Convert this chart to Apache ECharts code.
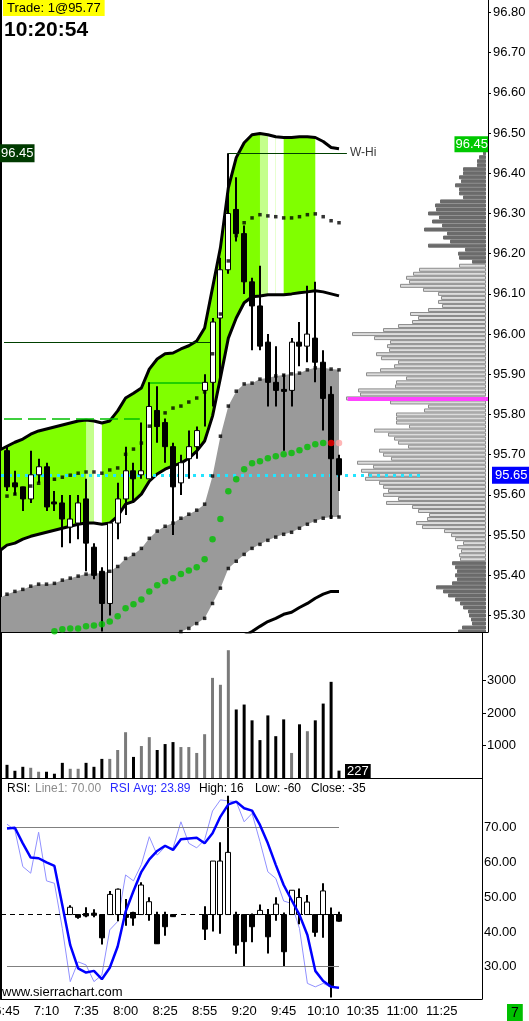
<!DOCTYPE html>
<html><head><meta charset="utf-8">
<script src="https://cdn.jsdelivr.net/npm/echarts@6/dist/echarts.min.js"></script>
<style>html,body{margin:0;padding:0;background:#fff;overflow:hidden}#c{width:529px;height:1021px}</style>
</head><body><div id="c"></div>
<script>
// ---------- categories (5-minute bars) ----------
const times = ['6:45','6:50','6:55','7:00','7:05','7:10','7:15','7:20','7:25','7:30','7:35','7:40','7:45','7:50','7:55','8:00','8:05','8:10','8:15','8:20','8:25','8:35','8:40','8:45','8:50','8:55','9:00','9:05','9:10','9:15','9:20','9:25','9:30','9:35','9:40','9:45','9:50','9:55','10:00','10:05','10:10','10:15','10:20','10:25','10:30','10:35','10:40','10:45','10:50','10:55','11:00','11:05','11:10','11:15','11:20','11:25','11:30','11:35','11:40','11:45','11:50'];
const timeLabelIdx = [0,5,10,15,20,25,30,35,40,45,50,55];

// ---------- price bars ----------
const opens  = [95.71,95.63,95.62,95.59,95.65,95.67,95.58,95.58,95.52,95.53,95.59,95.47,95.41,95.33,95.53,95.59,95.66,95.65,95.64,95.81,95.78,95.72,95.63,95.69,95.72,95.86,95.88,96.04,96.16,96.31,96.25,96.13,96.07,95.98,95.88,95.86,95.86,95.98,95.97,95.99,95.93,95.85,95.69];
const highs  = [95.72,95.66,95.62,95.71,95.69,95.68,95.61,95.60,95.60,95.60,95.64,95.48,95.42,95.53,95.63,95.72,95.68,95.78,95.88,95.87,95.79,95.73,95.70,95.76,95.77,95.90,96.04,96.19,96.45,96.39,96.27,96.14,96.17,96.00,95.97,95.90,95.99,96.03,96.12,96.13,95.96,95.87,95.70];
const lows   = [95.61,95.60,95.56,95.58,95.63,95.56,95.56,95.47,95.48,95.49,95.41,95.39,95.26,95.30,95.49,95.55,95.58,95.64,95.64,95.73,95.68,95.50,95.60,95.64,95.69,95.77,95.82,95.88,96.15,96.23,96.10,95.96,95.96,95.82,95.82,95.71,95.82,95.92,95.93,95.88,95.76,95.54,95.61];
const closes = [95.62,95.62,95.59,95.65,95.67,95.57,95.58,95.54,95.54,95.58,95.48,95.40,95.33,95.53,95.59,95.66,95.64,95.66,95.82,95.77,95.72,95.62,95.68,95.72,95.76,95.88,96.03,96.16,96.30,96.25,96.13,96.07,95.97,95.88,95.86,95.86,95.98,95.97,96.00,95.93,95.84,95.69,95.65];
const volumes = [406,223,345,315,193,193,132,467,284,284,467,345,589,589,863,1411,650,985,1259,863,1046,1107,954,954,772,1350,3086,2873,3939,2112,2264,1777,1168,1929,1289,1807,772,1655,1442,1777,2294,2964,227];

// ---------- study overlays (first value = bar before 6:45) ----------
const bandTop = [95.711,95.721,95.731,95.739,95.751,95.759,95.764,95.769,95.774,95.779,95.784,95.786,95.784,95.779,95.784,95.809,95.841,95.853,95.866,95.913,95.938,95.951,95.953,95.963,95.971,95.983,96.015,96.115,96.215,96.364,96.439,96.476,96.496,96.499,96.496,96.491,96.489,96.489,96.491,96.491,96.489,96.479,96.464,96.461];
const bandBot = [95.460,95.475,95.480,95.490,95.497,95.502,95.507,95.512,95.517,95.522,95.527,95.530,95.530,95.527,95.530,95.547,95.577,95.584,95.602,95.634,95.652,95.664,95.672,95.679,95.691,95.709,95.734,95.796,95.891,95.990,96.040,96.078,96.093,96.095,96.098,96.098,96.098,96.100,96.103,96.105,96.108,96.105,96.100,96.095];
const bandMid = [95.592,95.597,95.602,95.612,95.622,95.629,95.634,95.639,95.644,95.649,95.654,95.657,95.657,95.654,95.662,95.667,95.701,95.714,95.729,95.771,95.789,95.804,95.816,95.821,95.831,95.841,95.856,95.951,96.050,96.182,96.245,96.277,96.289,96.297,96.294,96.292,96.289,96.289,96.292,96.297,96.299,96.292,96.282,96.277];
// 0 = green, 1 = light green, 2 = white, 3 = no fill (per segment)
const bandShade = [0,0,0,0,0,0,0,0,0,0,0,1,2,0,0,0,0,0,0,0,0,0,0,0,0,0,0,0,0,0,0,0,0,1,2,2,0,0,0,0,3,3,3];
const grayTop = [95.343,95.353,95.360,95.365,95.373,95.378,95.378,95.380,95.388,95.393,95.398,95.403,95.405,95.405,95.410,95.422,95.442,95.452,95.467,95.492,95.510,95.522,95.530,95.542,95.552,95.562,95.577,95.647,95.746,95.821,95.858,95.876,95.878,95.888,95.891,95.896,95.898,95.901,95.903,95.911,95.916,95.916,95.913,95.911];
const grayBot = [95.17,95.175,95.18,95.185,95.19,95.19,95.195,95.2,95.2,95.205,95.21,95.215,95.215,95.215,95.22,95.225,95.23,95.235,95.24,95.245,95.25,95.252,95.255,95.260,95.268,95.280,95.293,95.330,95.368,95.417,95.435,95.452,95.467,95.477,95.487,95.495,95.502,95.507,95.517,95.527,95.535,95.542,95.545,95.545];
const grayMid = [95.24,95.246,95.251,95.253,95.256,95.256,95.258,95.261,95.266,95.268,95.268,95.273,95.275,95.278,95.285,95.298,95.318,95.328,95.340,95.360,95.375,95.385,95.393,95.403,95.412,95.420,95.440,95.490,95.540,95.609,95.639,95.664,95.679,95.684,95.691,95.696,95.701,95.704,95.711,95.719,95.726,95.729,95.729,95.729];
const outerLow = [95.10,95.10,95.11,95.11,95.12,95.12,95.12,95.13,95.13,95.13,95.14,95.14,95.13,95.13,95.13,95.14,95.15,95.15,95.16,95.17,95.18,95.18,95.19,95.19,95.19,95.20,95.21,95.22,95.23,95.24,95.245,95.25,95.260,95.273,95.285,95.293,95.303,95.308,95.320,95.330,95.343,95.353,95.360,95.360];

// ---------- volume profile (96.45 down to 95.26, 0.01 steps) ----------
const profileTop = 96.45, profileStep = 0.01;
const VAH = 96.17, VAL = 95.44, POC = 95.84;
const profileVol = [30,70,90,90,230,230,270,250,310,270,270,230,460,510,500,580,470,540,440,620,390,430,360,580,210,280,270,140,
 270,670,730,800,770,860,630,480,450,480,440,580,760,680,740,880,1030,1340,1120,960,990,970,1100,1050,880,920,1060,1200,800,900,910,1280,1260,1400,960,580,620,900,900,900,770,1120,980,920,880,780,1070,1030,950,1290,1130,1250,1180,1210,1070,1030,980,1030,880,1000,740,680,570,590,700,640,420,350,310,230,290,250,270,260,
 340,310,290,310,290,340,500,430,380,310,260,230,180,170,150,140,240,280];

// ---------- RSI pane ----------
const rsiLine = [71.0,69.3,58.8,56.9,68.7,54.7,54.0,41.0,25.7,31.4,30.5,25.7,27.6,40.6,43.0,56.4,54.7,59.4,67.4,62.1,64.5,64.1,71.7,65.5,64.2,66.5,74.8,78.0,77.7,77.5,71.7,74.1,66.0,57.3,55.4,48.9,48.2,41.0,25.2,24.2,25.2,24.0,24.2];
const rsiAvg  = [69.8,70.0,65.5,61.4,61.2,60.0,59.0,47.7,36.2,29.5,28.3,28.8,26.4,29.7,35.8,45.8,51.8,57.3,60.9,63.3,64.8,63.6,66.7,66.9,67.1,65.5,68.4,73.2,76.7,77.5,75.6,74.9,70.8,65.5,59.3,53.5,49.2,44.9,39.1,28.8,25.9,24.2,23.9];
const oscOpen  = [null,null,null,null,null,null,null,null,45,45,45.3,45.4,45,45,45,45,45.6,45,45,45,45,45,null,null,null,45,45,45,45,45,45,45,45,45,45,45,45,45,45,45,45,45,45];
const oscClose = [null,null,null,null,null,null,null,null,47.1,44.2,44.6,44.8,38.3,50.8,52.3,44.2,44.0,53.5,48.7,36.6,41.5,44.4,null,null,null,40.8,60.4,60.4,62.9,36.2,37.2,41.5,46.2,38.6,48.0,34.3,52.0,49.9,48.6,39.9,51.8,24.5,43.1];
const oscLow   = [null,null,null,null,null,null,null,null,45,43.8,44.2,44.2,36.4,45,43.1,41.8,41.8,45,43.2,36.6,38.9,44.4,null,null,null,37.7,40.1,39.5,45,33.7,30.0,37.0,45,33.8,43.2,30.0,45,42.2,45,38.6,38.3,21.1,42.9];
const oscHigh  = [null,null,null,null,null,null,null,null,47.7,45,47.1,46.5,45,51.8,52.5,49.5,45.8,54.3,50.0,45.8,45.8,45,null,null,null,47.4,60.4,65.8,79.2,45.8,45,45.3,47.9,46.6,50.0,45.6,52.0,52.5,50.6,45,54.0,47.0,45.8];
const rsiLevels = [70, 30], rsiMidLine = 45;

// ---------- axis ticks ----------
const priceTicks = [95.30,95.40,95.50,95.60,95.70,95.80,95.90,96.00,96.10,96.20,96.30,96.40,96.50,96.60,96.70,96.80];
const volTicks = [1000,2000,3000];
const rsiTicks = [30,40,50,60,70];

// ---------- reference levels drawn on the price pane ----------
const lastPrice = 95.65, weekHigh = 96.45;
const levelLines = [
  {price:96.45, from:28, to:43.0, color:'#004000', width:1, type:'solid', label:'W-Hi'},
  {price:95.98, from:-0.38, to:26.06, color:'#004000', width:1, type:'solid'},
  {price:95.79, from:-0.38, to:16.8, color:'#00c000', width:1.5, type:[18,6]},
  {price:95.88, from:17.84, to:25.3, color:'#00c000', width:1.5, type:'solid'},
  {price:96.17, from:-0.76, to:26.7, color:'#c8c8c8', width:1, type:[4,3]},
  {price:95.44, from:-0.76, to:42.5, color:'#c8c8c8', width:1, type:[4,3]}
];

const FONT = 'Liberation Sans';
const XMIN = -0.759, XMAX0 = 60.848, XMAX1 = 60.089;
const PMIN = 95.259, PMAX = 96.831;

const idxData = arr => arr.map((v,k)=>[k-1, v]);

function candleRender(params, api){
  const i=api.value(0), o=api.value(1), c=api.value(2), l=api.value(3), h=api.value(4);
  const x = Math.round(api.coord([i,o])[0]);
  const yo=api.coord([i,o])[1], yc=api.coord([i,c])[1], yl=api.coord([i,l])[1], yh=api.coord([i,h])[1];
  let top=Math.min(yo,yc), ht=Math.abs(yo-yc);
  if (ht < 2) { top = (yo+yc)/2 - 1; ht = 2; }
  return {type:'group', children:[
    {type:'line', shape:{x1:x,y1:yh,x2:x,y2:yl}, style:{stroke:'#000', lineWidth:2}},
    {type:'rect', shape:{x:x-2.5, y:top, width:5, height:ht}, style:{fill: c>o?'#fff':'#000', stroke:'#000', lineWidth:1}}
  ]};
}
function bandPolygon(api, top, bot, j0, j1){
  const pts = [];
  for (let j=j0; j<=j1; j++) pts.push(api.coord([j-1, top[j]]));
  for (let j=j1; j>=j0; j--) pts.push(api.coord([j-1, bot[j]]));
  return pts;
}
const lastFilled = bandShade.indexOf(3);

const candleData = opens.map((o,i)=>[i,o,closes[i],lows[i],highs[i]]);
const oscData = [];
oscOpen.forEach((o,i)=>{ if(o!==null) oscData.push([i,o,oscClose[i],oscLow[i],oscHigh[i]]); });
const profileData = profileVol.map((v,k)=>[v, +(profileTop - k*profileStep).toFixed(2)]);

const chart = echarts.init(document.getElementById('c'), null, {width:529, height:1021});

const markLevels = levelLines.map(L => [
  {coord:[L.from, L.price], lineStyle:{color:L.color, width:L.width, type:L.type},
   label: L.label ? {show:true, position:'end', formatter:L.label, color:'#3a3a3a', fontFamily:FONT, fontSize:12, distance:3} : {show:false}},
  {coord:[L.to, L.price]}
]);
markLevels.push([{coord:[XMIN, lastPrice], lineStyle:{color:'#22e4ff', width:3, type:[3,5]}, label:{show:false}}, {coord:[52.6, lastPrice]}]);
markLevels.push([{coord:[43.1, POC], lineStyle:{color:'#ff44ff', width:4, type:'solid'}, label:{show:false}}, {coord:[XMAX0, POC]}]);

const leftAxis = (g, min, max) => ({type:'value', gridIndex:g, position:'left', min, max,
  axisLine:{show:true, onZero:false, lineStyle:{color:'#000', width:2}}, axisTick:{show:false}, axisLabel:{show:false}, splitLine:{show:false}});
const gridBase = {outerBoundsMode:'none', containLabel:false};

const option = {
  animation:false,
  textStyle:{fontFamily:FONT},
  grid:[
    Object.assign({left:1, top:0, width:487, height:632}, gridBase),
    Object.assign({left:1, top:632, width:481, height:146}, gridBase),
    Object.assign({left:1, top:778, width:481, height:221}, gridBase),
    Object.assign({left:1, top:0, width:485, height:632}, gridBase)
  ],
  xAxis:[
    {type:'value', gridIndex:0, min:XMIN, max:XMAX0, axisLine:{show:true, onZero:false, lineStyle:{color:'#000'}}, axisTick:{show:false}, axisLabel:{show:false}, splitLine:{show:false}},
    {type:'value', gridIndex:1, min:XMIN, max:XMAX1, axisLine:{show:true, onZero:false, lineStyle:{color:'#000'}}, axisTick:{show:false}, axisLabel:{show:false}, splitLine:{show:false}},
    {type:'value', gridIndex:2, min:XMIN, max:XMAX1, axisLine:{show:true, onZero:false, lineStyle:{color:'#000'}}, axisTick:{show:false},
      axisLabel:{customValues:timeLabelIdx, formatter:v=>times[Math.round(v)]||'', color:'#000', fontFamily:FONT, fontSize:13, margin:6, hideOverlap:false},
      splitLine:{show:false}},
    {type:'value', gridIndex:3, min:0, max:4850, inverse:true, show:false}
  ],
  yAxis:[
    {type:'value', gridIndex:0, position:'right', min:PMIN, max:PMAX,
      axisLine:{show:true, onZero:false, lineStyle:{color:'#000'}}, axisTick:{show:true, customValues:priceTicks, length:3, lineStyle:{color:'#000'}},
      axisLabel:{customValues:priceTicks, formatter:v=>v.toFixed(2), color:'#000', fontFamily:FONT, fontSize:13, margin:5}, splitLine:{show:false}},
    {type:'value', gridIndex:1, position:'right', min:0, max:4500,
      axisLine:{show:true, onZero:false, lineStyle:{color:'#000'}}, axisTick:{show:true, customValues:volTicks, length:4, lineStyle:{color:'#000'}},
      axisLabel:{customValues:volTicks, formatter:v=>String(Math.round(v)), color:'#000', fontFamily:FONT, fontSize:13, margin:5}, splitLine:{show:false}},
    {type:'value', gridIndex:2, position:'right', min:20.70, max:84.30,
      axisLine:{show:true, onZero:false, lineStyle:{color:'#000'}}, axisTick:{show:false},
      axisLabel:{customValues:rsiTicks, formatter:v=>v.toFixed(2), color:'#000', fontFamily:FONT, fontSize:13, margin:2}, splitLine:{show:false}},
    {type:'value', gridIndex:3, min:PMIN, max:PMAX, show:false},
    leftAxis(0, PMIN, PMAX), leftAxis(1, 0, 4500), leftAxis(2, 20.70, 84.30)
  ],
  series:[
    {type:'custom', xAxisIndex:3, yAxisIndex:3, z:1, clip:true, silent:true, data:profileData,
      renderItem:(params, api)=>{
        const v=api.value(0), p=api.value(1);
        const r=api.coord([0,p]), l=api.coord([v,p]);
        const inVA = p <= VAH + 1e-9 && p >= VAL - 1e-9;
        return {type:'rect', shape:{x:l[0]+0.5, y:r[1]-1.5, width:Math.max(r[0]-l[0]-1,1), height:3},
          style: inVA ? {fill:'#dcdcdc', stroke:'#8c8c8c', lineWidth:1} : {fill:'#6b6b6b', stroke:'#6b6b6b', lineWidth:1}};
      }},
    {type:'custom', xAxisIndex:0, yAxisIndex:0, z:2, clip:true, silent:true,
      data:[[-1, grayTop[0]]],
      renderItem:(params, api)=>({type:'polygon', shape:{points:bandPolygon(api, grayTop, grayBot, 0, grayTop.length-1)}, style:{fill:'#9a9a9a'}})},
    {type:'custom', xAxisIndex:0, yAxisIndex:0, z:2, clip:true, silent:true,
      data:[[-1, bandTop[0]]],
      renderItem:(params, api)=>{
        const children = [{type:'polygon', shape:{points:bandPolygon(api, bandTop, bandBot, 0, lastFilled)}, style:{fill:'#80ff00'}}];
        bandShade.forEach((s,j)=>{
          if (s===1 || s===2) children.push({type:'polygon', shape:{points:bandPolygon(api, bandTop, bandBot, j, j+1)}, style:{fill: s===1 ? '#c4ff8c' : '#ffffff'}});
        });
        return {type:'group', children};
      }},
    {type:'line', xAxisIndex:0, yAxisIndex:0, z:3, data:idxData(bandTop), symbol:'none', lineStyle:{color:'#000', width:3}, silent:true,
      markLine:{symbol:['none','none'], silent:true, animation:false, data:markLevels}},
    {type:'line', xAxisIndex:0, yAxisIndex:0, z:3, data:idxData(bandBot), symbol:'none', lineStyle:{color:'#000', width:3}, silent:true},
    {type:'line', xAxisIndex:0, yAxisIndex:0, z:3, data:idxData(outerLow), symbol:'none', lineStyle:{color:'#000', width:3}, silent:true},
    {type:'custom', xAxisIndex:0, yAxisIndex:0, z:5, clip:true, silent:true, data:candleData, renderItem:candleRender,
      encode:{x:0, y:[1,2,3,4]}},
    {type:'scatter', xAxisIndex:0, yAxisIndex:0, z:6, data:idxData(bandMid), symbol:'rect', symbolSize:3.5, itemStyle:{color:'#000'}, silent:true},
    {type:'scatter', xAxisIndex:0, yAxisIndex:0, z:6, data:idxData(grayTop), symbol:'rect', symbolSize:3.5, itemStyle:{color:'#000'}, silent:true},
    {type:'scatter', xAxisIndex:0, yAxisIndex:0, z:6, data:idxData(grayBot), symbol:'rect', symbolSize:3.5, itemStyle:{color:'#000'}, silent:true},
    {type:'scatter', xAxisIndex:0, yAxisIndex:0, z:6, silent:true, symbol:'circle', symbolSize:6.5,
      data: idxData(grayMid).map((d,k)=> k===grayMid.length-2 ? {value:d, itemStyle:{color:'#ff0000'}} : k===grayMid.length-1 ? {value:d, itemStyle:{color:'#ffa4a4'}} : d),
      itemStyle:{color:'#00c000'}},
    {type:'bar', xAxisIndex:1, yAxisIndex:1, barWidth:3, silent:true,
      data: volumes.map((v,i)=>({value:[i,v], itemStyle:{color: closes[i]>opens[i] ? '#7a7a7a' : '#000'}}))},
    {type:'line', xAxisIndex:2, yAxisIndex:2, z:2, data:rsiLine.map((v,i)=>[i,v]), symbol:'none', lineStyle:{color:'#9090ff', width:1}, silent:true,
      markLine:{symbol:['none','none'], silent:true, label:{show:false}, data:[
        ...rsiLevels.map(v=>[{coord:[0,v], lineStyle:{color:'#808080', width:1, type:'solid'}},{coord:[42,v]}]),
        [{coord:[XMIN, rsiMidLine], lineStyle:{color:'#000', width:1, type:[5,4]}},{coord:[42, rsiMidLine]}]
      ]}},
    {type:'custom', xAxisIndex:2, yAxisIndex:2, z:4, clip:true, silent:true, data:oscData, renderItem:candleRender, encode:{x:0, y:[1,2,3,4]}},
    {type:'line', xAxisIndex:2, yAxisIndex:2, z:5, data:rsiAvg.map((v,i)=>[i,v]), symbol:'none', lineStyle:{color:'#0000ff', width:2.5}, silent:true}
  ]
};
chart.setOption(option);

const yP = v => chart.convertToPixel({yAxisIndex:0}, v);
const yV = v => chart.convertToPixel({yAxisIndex:1}, v);
const xV = v => chart.convertToPixel({xAxisIndex:1}, v);
const f13 = '13px "Liberation Sans"';
const f12 = '12px "Liberation Sans"';
const legendY = 789;
chart.setOption({graphic:[
  {type:'text', x:3, y:0, z:100, style:{text:'Trade: 1@95.77', font:f13, fill:'#000', backgroundColor:'#ffff00', padding:[2,4,1,4], align:'left', verticalAlign:'top'}},
  {type:'text', x:4, y:30, z:100, style:{text:'10:20:54', font:'bold 21px "Liberation Sans"', fill:'#000', align:'left', verticalAlign:'middle'}},
  {type:'text', x:0, y:yP(weekHigh), z:100, style:{text:weekHigh.toFixed(2), font:f13, fill:'#fff', backgroundColor:'#003a00', padding:[3,1,2,1], align:'left', verticalAlign:'middle'}},
  {type:'text', x:488, y:yP(weekHigh)-1, z:100, style:{text:weekHigh.toFixed(2), font:f13, fill:'#fff', backgroundColor:'#00c800', padding:[2,0,1,1], align:'right', verticalAlign:'bottom'}},
  {type:'text', x:492, y:yP(lastPrice)+0.5, z:100, style:{text:lastPrice.toFixed(2), font:f13, fill:'#fff', backgroundColor:'#0000ff', padding:[2,2,2,3], align:'left', verticalAlign:'middle'}},
  {type:'text', x:xV(42.76), y:yV(0), z:100, style:{text:String(volumes[volumes.length-1]), font:f13, fill:'#fff', backgroundColor:'#000', padding:[1,2,0,2], align:'left', verticalAlign:'bottom'}},
  {type:'text', x:7, y:legendY, z:100, style:{text:'RSI:', font:f12, fill:'#000', verticalAlign:'middle'}},
  {type:'text', x:35, y:legendY, z:100, style:{text:'Line1: 70.00', font:f12, fill:'#8c8c8c', verticalAlign:'middle'}},
  {type:'text', x:110, y:legendY, z:100, style:{text:'RSI Avg: 23.89', font:f12, fill:'#2828ff', verticalAlign:'middle'}},
  {type:'text', x:199, y:legendY, z:100, style:{text:'High: 16', font:f12, fill:'#000', verticalAlign:'middle'}},
  {type:'text', x:255, y:legendY, z:100, style:{text:'Low: -60', font:f12, fill:'#000', verticalAlign:'middle'}},
  {type:'text', x:311, y:legendY, z:100, style:{text:'Close: -35', font:f12, fill:'#000', verticalAlign:'middle'}},
  {type:'text', x:2, y:992, z:100, style:{text:'www.sierrachart.com', font:f13, fill:'#000', verticalAlign:'middle'}},
  {type:'text', x:507, y:1021, z:100, style:{text:'7', font:'14px "Liberation Sans"', fill:'#000', backgroundColor:'#00c000', padding:[2,4,1,4], align:'left', verticalAlign:'bottom'}}
]});
</script>
</body></html>
